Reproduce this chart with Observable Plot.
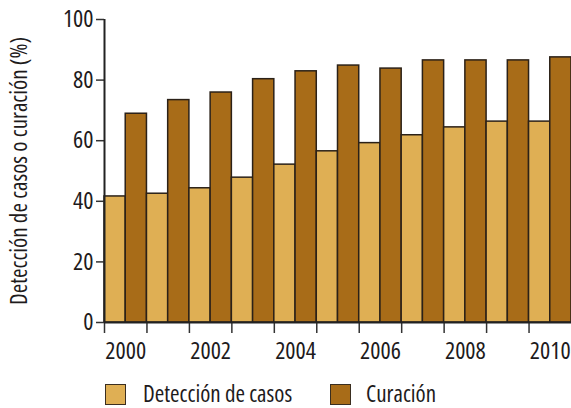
<!DOCTYPE html>
<html><head><meta charset="utf-8">
<script src="https://cdn.jsdelivr.net/npm/d3@7"></script>
<script src="https://cdn.jsdelivr.net/npm/@observablehq/plot@0.6"></script>
<style>
body{margin:0;background:#fff;font-family:"Open Sans",sans-serif;font-stretch:condensed;color:#1e1b1c;}
svg, svg text{font-stretch:condensed;}
#wrap{position:relative;width:571px;height:408px;overflow:hidden;}
#legend{position:absolute;left:0;top:378px;width:571px;height:30px;}
.sw{position:absolute;top:6px;width:19px;height:19px;border:1.5px solid #3a2e20;}
.lt{position:absolute;top:0px;font-size:23px;line-height:30px;}
</style></head><body><div id="wrap"><div id="chart"></div><div id="legend"></div></div>
<script>
const years = [2000,2001,2002,2003,2004,2005,2006,2007,2008,2009,2010];
const deteccion = [41.6,42.5,44.3,47.8,52.1,56.5,59.2,61.8,64.4,66.3,66.3];
const curacion = [68.9,73.4,75.9,80.3,82.9,84.8,83.8,86.5,86.5,86.5,87.5];
const series = ["Detección de casos","Curación"];
const colors = ["#DFAF54","#A86C18"];
const yTicks = [0,20,40,60,80,100];
const labelYears = [2000,2002,2004,2006,2008,2010];
const yLabel = "Detección de casos o curación (%)";

const data = years.flatMap((y,i)=>[
  {year:y, serie:series[0], value:deteccion[i], k:0},
  {year:y, serie:series[1], value:curacion[i], k:1}
]);
const bounds = years.map(y=>y-0.5);

const chart = Plot.plot({
  width:571, height:372,
  marginLeft:104, marginRight:0, marginTop:19, marginBottom:50,
  style:{fontFamily:'"Open Sans",sans-serif', color:"#1e1b1c", background:"#fff"},
  x:{domain:[years[0]-0.5, years[years.length-1]+0.5]},
  y:{domain:[0,100]},
  color:{domain:series, range:colors},
  marks:[
    Plot.rectY(data,{x1:d=>d.year-0.5+d.k*0.5, x2:d=>d.year+d.k*0.5, y:"value", fill:"serie", stroke:"#2b2118", strokeWidth:1.5}),
    Plot.axisY({ticks:yTicks, tickSize:8, tickPadding:3, fontSize:24, stroke:"#333", strokeWidth:1.5,
      label:yLabel, labelAnchor:"center", labelArrow:"none", labelOffset:94}),
    Plot.axisX({ticks:bounds, tickSize:11, tickFormat:()=>"", stroke:"#333", strokeWidth:1.5, label:null}),
    Plot.axisX({ticks:labelYears, tickSize:0, tickPadding:19, tickFormat:d=>String(d), fontSize:24, label:null}),
    Plot.ruleY([0],{stroke:"#222", strokeWidth:2}),
    Plot.ruleX([years[0]-0.5],{stroke:"#222", strokeWidth:2})
  ]
});
document.getElementById("chart").appendChild(chart);
chart.querySelectorAll("g[aria-label='y-axis label']").forEach(e=>e.setAttribute("font-size","23"));

const lg = document.getElementById("legend");
const pos = [[105,143],[330,366]];
series.forEach((s,i)=>{
  const sw=document.createElement("div"); sw.className="sw"; sw.style.left=pos[i][0]+"px"; sw.style.background=colors[i]; lg.appendChild(sw);
  const t=document.createElement("div"); t.className="lt"; t.style.left=pos[i][1]+"px"; t.textContent=s; lg.appendChild(t);
});
</script></body></html>
